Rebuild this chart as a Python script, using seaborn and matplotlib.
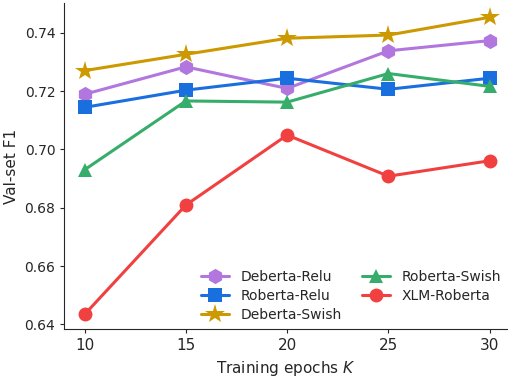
import pandas as pd
import seaborn as sns
import matplotlib.pyplot as plt

# Data
epochs = [10, 15, 20, 25, 30]
deberta_relu = [0.7189, 0.7283, 0.7209, 0.7338, 0.7373]
roberta_relu = [0.7144, 0.7203, 0.7244, 0.7206, 0.7244]
deberta_swish = [0.7270, 0.7326, 0.7381, 0.7392, 0.7453]
roberta_swish = [0.6930, 0.7166, 0.7162, 0.7260, 0.7216]
xlm_roberta = [0.6434, 0.6809, 0.7049, 0.6908, 0.6961]

names = ['Deberta-Relu', 'Roberta-Relu', 'Deberta-Swish', 'Roberta-Swish', 'XLM-Roberta']
series = [deberta_relu, roberta_relu, deberta_swish, roberta_swish, xlm_roberta]
colors = ['#b177de', '#1a6fdf', '#cc9900', '#37ad6b', '#f14040']
markers = ['h', 's', '*', '^', 'o']
msizes = [11, 10, 15, 10, 10]

sns.set_style('ticks')
plt.rcParams['font.family'] = ['DejaVu Sans']

fig = plt.figure(figsize=(5.08, 3.81), dpi=100)
ax = fig.add_axes([0.1266, 0.1357, 0.8734, 0.8565])

for name, vals, c, m, ms in zip(names, series, colors, markers, msizes):
    df = pd.DataFrame({'epoch': epochs, 'f1': vals})
    sns.lineplot(data=df, x='epoch', y='f1', ax=ax, color=c, marker=m,
                 markersize=ms, linewidth=2.2, markeredgewidth=0, label=name)

ax.set_xlim(9.0, 30.9)
ax.set_ylim(0.6383, 0.7502)
ax.set_xticks(epochs)
ax.set_yticks([0.64, 0.66, 0.68, 0.70, 0.72, 0.74])
ax.set_yticklabels(['0.64', '0.66', '0.68', '0.70', '0.72', '0.74'])
ax.tick_params(axis='x', labelsize=11, length=3)
ax.tick_params(axis='y', labelsize=10, length=3)
ax.set_xlabel('Training epochs $K$', fontsize=11)
ax.set_ylabel('Val-set F1', fontsize=11)
sns.despine(ax=ax)

ax.legend(ncol=2, loc='lower right', frameon=False, fontsize=10,
          bbox_to_anchor=(1.012, -0.015), columnspacing=1.5, handlelength=2.0,
          labelspacing=0.35)

fig.savefig('out.png', dpi=100)
